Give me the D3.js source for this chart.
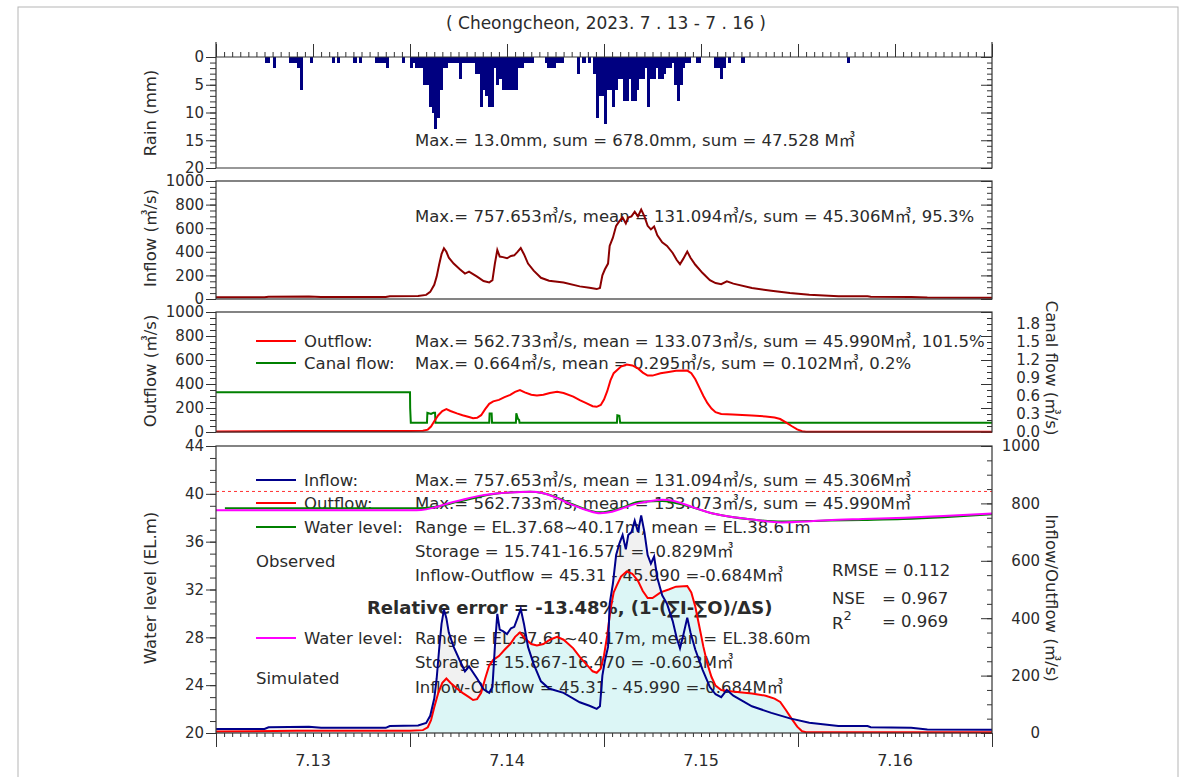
<!DOCTYPE html>
<html><head><meta charset="utf-8">
<script src="https://cdn.jsdelivr.net/npm/d3@7"></script>
<style>
body{margin:0;background:#fff}
text{font-family:"DejaVu Sans","Noto Sans CJK KR",sans-serif;fill:#2b2b2b;font-size:16.5px}
.tick text{font-size:15px}
</style>
</head><body><svg id="chart" width="1194" height="777"></svg>
<script>
// ---- reservoir operation record, Cheongcheon, 2023-07-13 .. 07-16 ----
const dayLabels = ["7.13", "7.14", "7.15", "7.16"];

// rainfall: 20-minute interval number since 7/13 00:00, depth (mm)
const rainStep = [18,19,21,27,28,29,30,31,35,43,45,51,53,59,60,61,62,63,69,
  72,73,74,75,76,77,78,79,80,81,82,83,84,85,86,87,88,89,90,91,92,93,94,95,96,97,98,99,100,101,102,103,104,105,106,107,108,109,110,111,112,113,114,115,116,117,
  122,123,124,125,126,127,128,134,136,138,
  140,141,142,143,144,145,146,147,148,149,150,151,152,153,154,155,156,157,158,159,160,161,162,163,164,165,166,167,168,169,170,171,172,173,174,175,178,179,
  185,186,187,188,190,195,234];
const rainMm = [1,1,2,1,1,1,2,6,1,1,1,1,1,1,1,1,1,2,1,
  2,1,2,2,2,5,5,9,10,13,11,6,2,2,1,1,1,1,4,1,1,1,1,1,3,3,9,6,7,9,9,2,5,4,6,6,6,6,6,6,2,2,1,1,1,1,
  1,2,2,2,1,1,1,3,1,1,
  3,11,7,7,12,6,6,9,6,4,4,8,8,4,8,8,6,4,4,2,9,4,4,2,4,4,3,2,2,1,5,8,5,2,1,1,1,1,
  2,2,4,2,1,1,1];

// inflow (m3/s): hours since 7/13 00:00
const inflowHour = [0,6,6.5,11.5,13,21,21.5,25,26,26.5,27,27.3,27.6,27.9,28.2,28.5,28.8,29.4,30.2,30.8,31.3,32.3,33.1,33.8,34.2,34.5,34.8,35.1,35.5,36,36.5,36.9,37.3,37.7,38.1,38.6,39.3,40.2,41.2,43,45,46.2,47.1,47.5,47.8,48.1,48.5,48.7,49.1,49.5,49.9,50.3,50.7,51,51.4,51.8,52.2,52.6,53,53.4,53.8,54.2,54.6,55.2,55.8,56.5,57,57.4,57.8,58.3,58.7,59.3,60.2,61.1,61.8,62.5,63.2,64,66.3,68.7,71,73.4,77,80.6,81,86,88,96];
const inflowQ = [14,14,20,22,18,18,24,26,35,60,120,190,290,380,430,400,350,300,250,215,232,190,152,140,160,300,415,360,355,345,365,370,400,432,380,300,240,180,155,140,107,95,84,93,200,250,300,450,520,620,660,690,640,690,700,740,700,757.653,700,620,590,615,540,480,450,390,330,295,340,402,350,290,220,160,135,125,150,130,93,70,51,36,24,24,20,18,12,11];

// outflow (m3/s)
const outflowHour = [0,10,24,25.6,26.2,26.6,27,27.5,28,28.5,29,29.8,30.5,31.3,31.8,32.3,32.8,33.3,33.8,34.3,35,35.7,36.4,37,37.6,38.2,39,39.7,40.5,41.3,42.2,43,44.2,45,45.8,46.6,47.1,47.6,48,48.4,48.8,49.2,49.6,50.1,50.8,51.5,52.2,52.8,53.4,54,55,56,56.9,58.3,58.8,59.3,59.8,60.3,60.8,61.3,61.8,62.5,63.9,66.3,68,69.1,69.8,70.5,71.2,71.9,72.5,73,96];
const outflowQ = [5,8,8,10,20,45,90,140,175,190,175,155,140,125,115,118,140,190,235,255,268,290,310,335,350,330,310,305,310,325,335,325,295,265,240,215,210,225,270,340,430,490,515,545,562.733,555,530,495,470,470,490,500,510,512,490,440,370,300,240,195,165,150,145,138,130,120,108,80,50,22,6,3,3];

// canal flow (m3/s)
const canalHour = [0,24,24.02,24.1,26.1,26.15,26.6,26.9,27.1,27.15,33.8,33.85,34.1,34.15,37.1,37.15,37.35,37.5,37.55,49.6,49.65,49.9,50,96];
const canalQ = [0.664,0.664,0.4,0.155,0.155,0.32,0.3,0.32,0.32,0.155,0.155,0.31,0.31,0.155,0.155,0.31,0.22,0.2,0.155,0.155,0.28,0.27,0.155,0.155];

// water level (EL.m)
const levelObsHour = [1.1,24.8,27,30,35,38.9,42,44,47.5,50.5,52,53,55.2,58.5,61.2,66.3,70,75,80,85,90,96];
const levelObs = [38.8,38.8,38.9,39.35,40.05,40.17,39.75,39.15,38.45,38.9,39.3,39.36,39.4,38.95,38.4,37.85,37.68,37.75,37.82,37.9,38.05,38.3];
const levelSimHour = [0,24.8,26,27,28.5,30.5,32.7,35,37,38.9,40.5,42,44,46,47.5,49,50.5,52.2,54,55.2,56.5,58.5,61.2,63.5,66.3,70,73,75.6,80,85.2,90,96];
const levelSim = [38.62,38.63,38.7,38.85,39.15,39.5,39.85,40.05,40.14,40.17,40.05,39.7,39.1,38.6,38.38,38.5,38.85,39.2,39.42,39.5,39.42,39.0,38.4,38.1,37.85,37.61,37.68,37.8,37.9,38.0,38.15,38.35];
const limitLevel = 40.2;

// ---- scales ----
const t0 = Date.UTC(2023, 6, 13);
const T = h => new Date(t0 + h * 3600e3);
const svg = d3.select("#chart");
const L = 216, R = 992;
const x = d3.scaleUtc().domain([T(0), T(96)]).range([L, R]);

const yRain = d3.scaleLinear().domain([0, 20]).range([57, 168]);
const yIn = d3.scaleLinear().domain([0, 1000]).range([299, 181]);
const yOut = d3.scaleLinear().domain([0, 1000]).range([432, 312]);
const yCanal = d3.scaleLinear().domain([0, 2]).range([432, 312]);
const yLev = d3.scaleLinear().domain([20, 44]).range([733, 446]);
const yQ = d3.scaleLinear().domain([0, 1000]).range([733, 446]);

const frame = "#333";
const plain = d3.format("d");
// outer frame
svg.append("rect").attr("x", 18).attr("y", 7).attr("width", 1160).attr("height", 800)
  .attr("fill", "none").attr("stroke", "#b5b5b5");

svg.append("text").attr("x", 606).attr("y", 29).attr("text-anchor", "middle").style("font-size", "17px")
  .text("( Cheongcheon, 2023. 7 . 13 - 7 . 16 )");

function clean(g) {
  g.attr("font-size", null).attr("font-family", null);
  g.selectAll("text").attr("fill", null);
  g.selectAll("line").attr("stroke", frame);
}
// ---- helper: left axis with minor and labelled ticks ----
function leftAxis(scale, minor, major) {
  svg.append("g").attr("transform", `translate(${L},0)`)
    .call(d3.axisLeft(scale).tickValues(minor).tickSize(6).tickFormat(""))
    .call(g => g.select(".domain").remove()).call(clean);
  svg.append("g").attr("transform", `translate(${L},0)`)
    .call(d3.axisLeft(scale).tickValues(major).tickSize(10).tickPadding(2).tickFormat(plain))
    .call(g => g.select(".domain").remove()).call(clean);
}
function rightInward(scale, minor, major) {
  svg.append("g").attr("transform", `translate(${R},0)`)
    .call(d3.axisLeft(scale).tickValues(minor).tickSize(5).tickFormat(""))
    .call(g => g.select(".domain").remove()).call(clean);
  svg.append("g").attr("transform", `translate(${R},0)`)
    .call(d3.axisLeft(scale).tickValues(major).tickSize(11).tickFormat(""))
    .call(g => g.select(".domain").remove()).call(clean);
}
function rightLabels(scale, vals, fmt) {
  const g = svg.append("g").attr("transform", `translate(${R},0)`)
    .call(d3.axisRight(scale).tickValues(vals).tickSize(0).tickPadding(48).tickFormat(fmt))
    .call(g => g.select(".domain").remove()).call(clean);
  g.selectAll("text").attr("text-anchor", "end");
}
function vTitle(txt, cx, cy, rot) {
  svg.append("text").attr("transform", `translate(${cx},${cy}) rotate(${rot})`)
    .attr("text-anchor", "middle").attr("dy", "0.35em").text(txt);
}
const hourly = d3.range(0, 97).map(T);

// ---- rain panel ----
svg.append("g").attr("transform", "translate(0,57)")
  .call(d3.axisTop(x).tickValues(hourly).tickSize(5).tickFormat(""))
  .call(g => g.select(".domain").remove()).call(clean);
svg.append("g").attr("transform", "translate(0,57)")
  .call(d3.axisTop(x).tickValues(d3.range(0, 97, 12).map(T)).tickSize(13).tickFormat(""))
  .call(g => g.select(".domain").remove()).call(clean);
leftAxis(yRain, d3.range(0, 21), [0, 5, 10, 15, 20]);
rightInward(yRain, d3.range(0, 21), [0, 5, 10, 15, 20]);
const stepMs = 20 * 60e3;
svg.append("g").attr("shape-rendering", "crispEdges")
  .selectAll("rect").data(rainStep.map((s, i) => [s, rainMm[i]])).join("rect")
  .attr("x", d => x(new Date(t0 + d[0] * stepMs)))
  .attr("width", d => x(new Date(t0 + (d[0] + 1) * stepMs)) - x(new Date(t0 + d[0] * stepMs)) + 0.4)
  .attr("y", yRain(0)).attr("height", d => yRain(d[1]) - yRain(0))
  .attr("fill", "#000080");
svg.append("path").attr("d", `M${L},42V168H${R}V42`).attr("fill", "none").attr("stroke", frame).attr("stroke-width", 1.2);
svg.append("line").attr("x1", L).attr("x2", R).attr("y1", 57).attr("y2", 57).attr("stroke", frame).attr("stroke-width", 1.2);
svg.append("text").attr("x", 415).attr("y", 146).text("Max.= 13.0mm, sum = 678.0mm, sum = 47.528 M㎥");
vTitle("Rain (mm)", 150, 113, -90);

// ---- inflow panel ----
leftAxis(yIn, d3.range(0, 1001, 50), d3.range(0, 1001, 200));
rightInward(yIn, d3.range(0, 1001, 50), d3.range(0, 1001, 200));
svg.append("text").attr("x", 415).attr("y", 222)
  .text("Max.= 757.653㎥/s, mean = 131.094㎥/s, sum = 45.306M㎥, 95.3%");
const lineIn = d3.line().x((d, i) => x(T(inflowHour[i]))).y(d => yIn(d));
svg.append("path").attr("d", lineIn(inflowQ)).attr("fill", "none").attr("stroke", "#8b0000").attr("stroke-width", 2);
svg.append("rect").attr("x", L).attr("y", 181).attr("width", R - L).attr("height", 118)
  .attr("fill", "none").attr("stroke", frame).attr("stroke-width", 1.2);
vTitle("Inflow (㎥/s)", 150, 238, -90);

// ---- outflow panel ----
leftAxis(yOut, d3.range(0, 1001, 50), d3.range(0, 1001, 200));
rightInward(yOut, d3.range(0, 1001, 50), d3.range(0, 1001, 200));
rightLabels(yCanal, [0, 0.3, 0.6, 0.9, 1.2, 1.5, 1.8], d3.format(".1f"));
const legO = [
  {c: "#ff0000", y: 341, name: "Outflow:", s: "Max.= 562.733㎥/s, mean = 133.073㎥/s, sum = 45.990M㎥, 101.5%"},
  {c: "#008000", y: 363, name: "Canal flow:", s: "Max.= 0.664㎥/s, mean = 0.295㎥/s, sum = 0.102M㎥, 0.2%"}
];
legO.forEach(d => {
  svg.append("text").attr("x", 304).attr("y", d.y + 6).text(d.name);
  svg.append("text").attr("x", 415).attr("y", d.y + 6).text(d.s);
});
const lineOut = d3.line().x((d, i) => x(T(outflowHour[i]))).y(d => yOut(d));
const lineCanal = d3.line().x((d, i) => x(T(canalHour[i]))).y(d => yCanal(d));
svg.append("path").attr("d", lineCanal(canalQ)).attr("fill", "none").attr("stroke", "#008000").attr("stroke-width", 2);
svg.append("path").attr("d", lineOut(outflowQ)).attr("fill", "none").attr("stroke", "#ff0000").attr("stroke-width", 2);
legO.forEach(d => svg.append("line").attr("x1", 256).attr("x2", 296).attr("y1", d.y).attr("y2", d.y)
  .attr("stroke", d.c).attr("stroke-width", 2));
svg.append("rect").attr("x", L).attr("y", 312).attr("width", R - L).attr("height", 120)
  .attr("fill", "none").attr("stroke", frame).attr("stroke-width", 1.2);
vTitle("Outflow (㎥/s)", 150, 371, -90);
vTitle("Canal flow (㎥/s)", 1052, 368, 90);

// ---- water level / inflow-outflow panel ----
const areaIn = d3.area().x((d, i) => x(T(inflowHour[i]))).y0(yQ(0)).y1(d => yQ(d));
const areaOut = d3.area().x((d, i) => x(T(outflowHour[i]))).y0(yQ(0)).y1(d => yQ(d));
svg.append("path").attr("d", areaIn(inflowQ)).attr("fill", "#f1f1f1");
svg.append("path").attr("d", areaOut(outflowQ)).attr("fill", "#dcf6f6");

leftAxis(yLev, d3.range(20, 45), d3.range(20, 45, 4));
rightInward(yQ, d3.range(0, 1001, 50), d3.range(0, 1001, 200));
rightLabels(yQ, d3.range(0, 1001, 200), plain);

// bottom time axis
svg.append("g").attr("transform", "translate(0,733)")
  .call(d3.axisBottom(x).tickValues(hourly).tickSize(4).tickFormat(""))
  .call(g => g.select(".domain").remove()).call(clean);
svg.append("g").attr("transform", "translate(0,733)")
  .call(d3.axisBottom(x).tickValues(d3.range(0, 97, 24).map(T)).tickSize(14).tickFormat(""))
  .call(g => g.select(".domain").remove()).call(clean);
svg.append("g").selectAll("text").data(dayLabels).join("text")
  .attr("x", (d, i) => x(T(12 + 24 * i))).attr("y", 766).attr("text-anchor", "middle")
  .style("font-size", "16px").text(d => d);

svg.append("line").attr("x1", L).attr("x2", R).attr("y1", yLev(limitLevel)).attr("y2", yLev(limitLevel))
  .attr("stroke", "#ff3030").attr("stroke-width", 1).attr("stroke-dasharray", "3,3");

const legB = [
  {c: "#00008b", y: 480, name: "Inflow:", s: "Max.= 757.653㎥/s, mean = 131.094㎥/s, sum = 45.306M㎥"},
  {c: "#ff0000", y: 503, name: "Outflow:", s: "Max.= 562.733㎥/s, mean = 133.073㎥/s, sum = 45.990M㎥"},
  {c: "#008000", y: 527, name: "Water level:", s: "Range = EL.37.68~40.17m, mean = EL.38.61m"},
  {c: "#ff00ff", y: 638, name: "Water level:", s: "Range = EL.37.61~40.17m, mean = EL.38.60m"}
];
legB.forEach(d => {
  svg.append("text").attr("x", 304).attr("y", d.y + 6).text(d.name);
  svg.append("text").attr("x", 415).attr("y", d.y + 6).text(d.s);
});
const notes = [
  [415, 557, "Storage = 15.741-16.571 = -0.829M㎥"],
  [256, 567, "Observed"],
  [415, 581, "Inflow-Outflow = 45.31 - 45.990 =-0.684M㎥"],
  [832, 576, "RMSE = 0.112"],
  [832, 604, "NSE"], [882, 604, "= 0.967"],
  [882, 627, "= 0.969"],
  [415, 668, "Storage = 15.867-16.470 = -0.603M㎥"],
  [256, 684, "Simulated"],
  [415, 693, "Inflow-Outflow = 45.31 - 45.990 =-0.684M㎥"]
];
notes.forEach(n => svg.append("text").attr("x", n[0]).attr("y", n[1]).text(n[2]));
const r2 = svg.append("text").attr("x", 832).attr("y", 629).text("R");
r2.append("tspan").attr("dy", -9).attr("font-size", 13).text("2");
svg.append("text").attr("x", 367).attr("y", 614).attr("font-weight", "bold").style("font-size", "18px")
  .text("Relative error = -13.48%,  (1-(∑I-∑O)/ΔS)");

const lineLevObs = d3.line().curve(d3.curveMonotoneX).x((d, i) => x(T(levelObsHour[i]))).y(d => yLev(d));
const lineLevSim = d3.line().curve(d3.curveMonotoneX).x((d, i) => x(T(levelSimHour[i]))).y(d => yLev(d));
const lineQIn = d3.line().x((d, i) => x(T(inflowHour[i]))).y(d => yQ(d));
const lineQOut = d3.line().x((d, i) => x(T(outflowHour[i]))).y(d => yQ(d));
svg.append("path").attr("d", lineQOut(outflowQ)).attr("fill", "none").attr("stroke", "#ff0000").attr("stroke-width", 2);
svg.append("path").attr("d", lineQIn(inflowQ)).attr("fill", "none").attr("stroke", "#00008b").attr("stroke-width", 2);
svg.append("path").attr("d", lineLevObs(levelObs)).attr("fill", "none").attr("stroke", "#008000").attr("stroke-width", 2);
svg.append("path").attr("d", lineLevSim(levelSim)).attr("fill", "none").attr("stroke", "#ff00ff").attr("stroke-width", 2);
legB.forEach(d => svg.append("line").attr("x1", 256).attr("x2", 296).attr("y1", d.y).attr("y2", d.y)
  .attr("stroke", d.c).attr("stroke-width", 2));
svg.append("rect").attr("x", L).attr("y", 446).attr("width", R - L).attr("height", 287)
  .attr("fill", "none").attr("stroke", frame).attr("stroke-width", 1.2);
vTitle("Water level (EL.m)", 150, 588, -90);
vTitle("Inflow/Outflow (㎥/s)", 1052, 598, 90);
</script></body></html>
